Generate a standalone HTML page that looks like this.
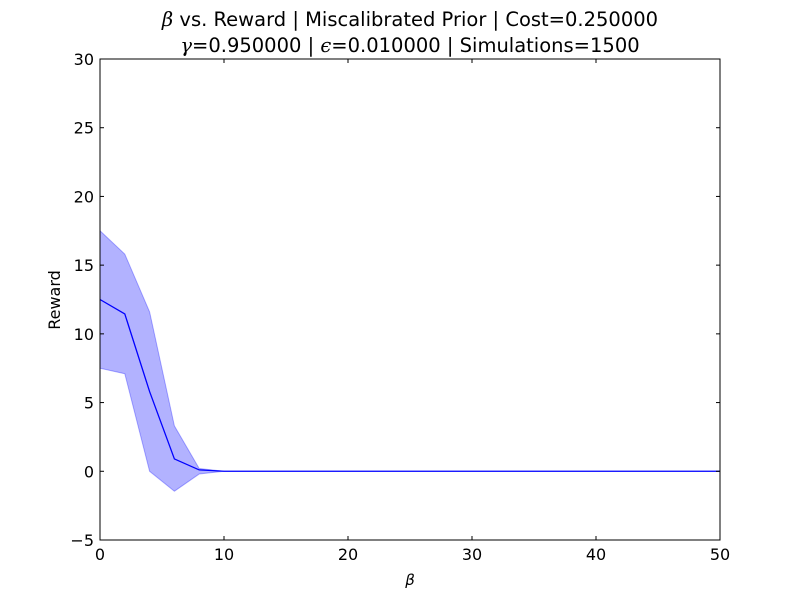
<!DOCTYPE html>
<html><head><meta charset="utf-8"><style>
body{margin:0;background:#fff;}
svg text{font-family:"DejaVu Sans","Liberation Sans",sans-serif;}
</style></head><body>
<svg id="chart" width="800" height="600" xmlns="http://www.w3.org/2000/svg">
<rect width="800" height="600" fill="#fff"/>
<text x="410" y="26" text-anchor="middle" font-size="19.5"><tspan font-family="DejaVu Serif,serif" font-style="italic">β</tspan> vs. Reward | Miscalibrated Prior | Cost=0.250000</text>
<text x="410" y="52" text-anchor="middle" font-size="19.5"><tspan font-family="DejaVu Serif,serif" font-style="italic">γ</tspan>=0.950000 | <tspan font-family="DejaVu Serif,serif" font-style="italic">ϵ</tspan>=0.010000 | Simulations=1500</text>
<g id="plot"></g>
<text x="410" y="585" text-anchor="middle" font-size="15" font-family="DejaVu Serif,serif" font-style="italic">β</text>
<text transform="translate(60,300) rotate(-90)" text-anchor="middle" font-size="16">Reward</text>
</svg>
<script>
const betas = [0,2,4,6,8,10,12,14,16,18,20,22,24,26,28,30,32,34,36,38,40,42,44,46,48,50];
const meanReward = [12.5,11.45,5.8,0.9,0.1,0,0,0,0,0,0,0,0,0,0,0,0,0,0,0,0,0,0,0,0,0];
const upperReward = [17.5,15.8,11.6,3.3,0.2,0,0,0,0,0,0,0,0,0,0,0,0,0,0,0,0,0,0,0,0,0];
const lowerReward = [7.5,7.1,0,-1.45,-0.2,0,0,0,0,0,0,0,0,0,0,0,0,0,0,0,0,0,0,0,0,0];
const xTicks = [0,10,20,30,40,50];
const yTicks = [-5,0,5,10,15,20,25,30];

const L=100,R=720,T=59,B=540;
const xs=v=>L+(v-0)/(50-0)*(R-L);
const ys=v=>B-(v+5)/(35)*(B-T);
const NS="http://www.w3.org/2000/svg";
const g=document.getElementById('plot');
function mk(tag,attrs){const e=document.createElementNS(NS,tag);for(const k in attrs)e.setAttribute(k,attrs[k]);g.appendChild(e);return e;}

let pts=betas.map((b,i)=>xs(b)+','+ys(upperReward[i]));
for(let i=betas.length-1;i>=0;i--)pts.push(xs(betas[i])+','+ys(lowerReward[i]));
const band=mk('polygon',{points:pts.join(' '),fill:'#0000ff','fill-opacity':0.3,stroke:'#0000ff','stroke-opacity':0.3,'stroke-width':1});


const line=mk('polyline',{points:betas.map((b,i)=>xs(b)+','+ys(meanReward[i])).join(' '),fill:'none',stroke:'#0000ff','stroke-width':1.3});



const frame=mk('rect',{x:L,y:T,width:R-L,height:B-T,fill:'none',stroke:'#000','stroke-width':1});



xTicks.forEach(v=>{
  const x=xs(v);
  mk('line',{x1:x,y1:B,x2:x,y2:B-4,stroke:'#000'});
  mk('line',{x1:x,y1:T,x2:x,y2:T+4,stroke:'#000'});
  const t=mk('text',{x:x,y:B+20,'text-anchor':'middle','font-size':16});
  t.textContent=v;
  
  
});
yTicks.forEach(v=>{
  const y=ys(v);
  mk('line',{x1:L,y1:y,x2:L+4,y2:y,stroke:'#000'});
  mk('line',{x1:R,y1:y,x2:R-4,y2:y,stroke:'#000'});
  const t=mk('text',{x:L-6,y:y+6,'text-anchor':'end','font-size':16});
  t.textContent=v<0?'\u2212'+(-v):v;
  
  
});
</script>
</body></html>
